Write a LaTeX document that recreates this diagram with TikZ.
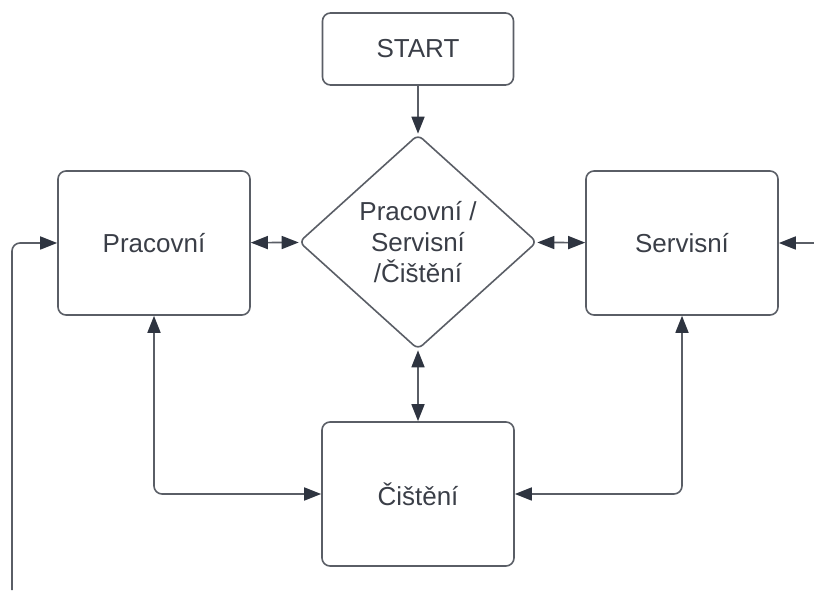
\documentclass[tikz,border=0pt]{standalone}
\usepackage{fontspec}
\setmainfont{Liberation Sans}
\usepackage{tikz}
\usetikzlibrary{shapes.geometric, arrows.meta}
\definecolor{linegray}{HTML}{5A5E66}
\definecolor{tipgray}{HTML}{2E3440}
\definecolor{textgray}{HTML}{3A3E47}

\tikzset{
  state/.style={draw=linegray, line width=0.8pt, rounded corners=4pt,
    minimum width=96pt, minimum height=72pt, inner sep=0pt,
    text=textgray, font=\fontsize{13}{15.5}\selectfont},
  choice/.style={state, diamond, rounded corners=3pt, minimum width=119pt,
    minimum height=107.5pt, align=center},
  link/.style={draw=linegray, line width=0.8pt, rounded corners=4pt,
    -{Triangle[length=8.5pt, width=6.5pt, color=tipgray]}},
  twoway/.style={link, {Triangle[length=8.5pt, width=6.5pt, color=tipgray]}-{Triangle[length=8.5pt, width=6.5pt, color=tipgray]}}
}

\begin{document}
\begin{tikzpicture}[x=0.5pt, y=-0.5pt]
    \useasboundingbox (0,0) rectangle (814,598);
    \node[state, minimum height=36pt, minimum width=95.5pt] (start) at (418,49) {START};
    \node[choice] (hub) at (418,242) {Pracovní /\\Servisní\\/Čištění};
    \node[state] (prac) at (154,243) {Pracovní};
    \node[state] (serv) at (682,243) {Servisní};
    \node[state] (cist) at (418,494) {Čištění};
    \coordinate (loopin) at (12,590);
    \coordinate (feed) at (814,243);

    \draw[link] (start) -- (hub);
    \draw[twoway] (prac) -- (hub);
    \draw[twoway] (hub) -- (serv);
    \draw[twoway] (hub) -- (cist);
    \draw[twoway] (prac) |- (cist);
    \draw[twoway] (serv) |- (cist);
    \draw[link] (loopin) |- (prac);
    \draw[link] (feed) -- (serv);
\end{tikzpicture}
\end{document}
